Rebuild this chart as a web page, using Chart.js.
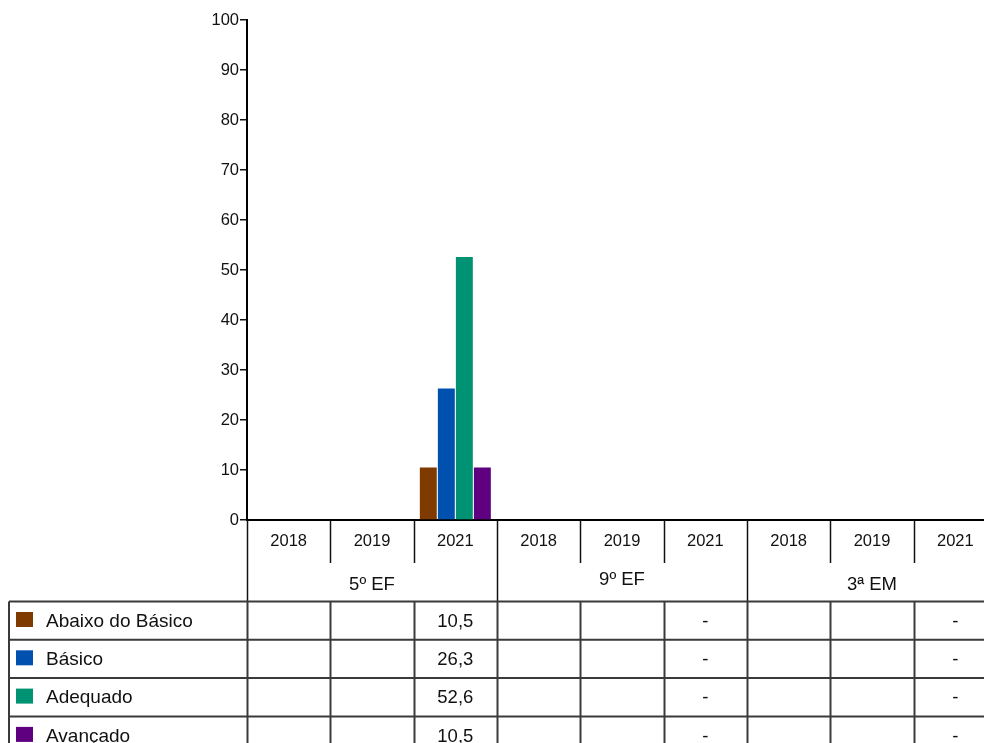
<!DOCTYPE html>
<html>
<head>
<meta charset="utf-8">
<script src="https://cdn.jsdelivr.net/npm/chart.js@4/dist/chart.umd.min.js"></script>
<style>
  html, body { margin: 0; padding: 0; background: #ffffff; }
  #wrap { width: 984px; height: 743px; overflow: hidden; position: relative; }
  #c { position: absolute; left: 0; top: 0; }
</style>
</head>
<body>
<div id="wrap"><canvas id="c" width="1000" height="743"></canvas></div>
<script>
// ---- data ----
const categories = ['2018', '2019', '2021', '2018', '2019', '2021', '2018', '2019', '2021'];
const groups = ['5º EF', '9º EF', '3ª EM'];
const seriesNames = ['Abaixo do Básico', 'Básico', 'Adequado', 'Avançado'];
const abaixoDoBasico = [null, null, 10.5, null, null, null, null, null, null];
const basico         = [null, null, 26.3, null, null, null, null, null, null];
const adequado       = [null, null, 52.6, null, null, null, null, null, null];
const avancado       = [null, null, 10.5, null, null, null, null, null, null];
// table marks for columns without a value ('-' = not available, '' = blank)
const missingMarks = ['', '', '', '', '', '-', '', '', '-'];
const yTicks = [0, 10, 20, 30, 40, 50, 60, 70, 80, 90, 100];

const seriesColors = ['#7f3a00', '#0050b0', '#009373', '#5f0080'];
const seriesData = [abaixoDoBasico, basico, adequado, avancado];

const FONT = '"Liberation Sans", Arial, sans-serif';

const tablePlugin = {
  id: 'dataTable',
  afterDraw(chart) {
    const ctx = chart.ctx;
    const xs = chart.scales.x;
    const ca = chart.chartArea;
    const n = categories.length;
    const colW = xs.getPixelForValue(1) - xs.getPixelForValue(0);
    const leftEdge = i => xs.getPixelForValue(i) - colW / 2;
    const W = chart.width;
    const H = chart.height;
    const top = ca.bottom;
    const yearBottom = top + 43;
    const tableTop = top + 81.5;
    const rowH = 38.3;

    ctx.save();
    // header vertical lines
    ctx.strokeStyle = '#111';
    ctx.lineWidth = 1.5;
    for (let i = 0; i <= n; i++) {
      const x = Math.round(leftEdge(i)) + 0.5;
      const isGroup = i % 3 === 0;
      ctx.beginPath();
      ctx.moveTo(x, top);
      ctx.lineTo(x, isGroup ? tableTop : yearBottom);
      ctx.stroke();
    }
    // year labels
    ctx.fillStyle = '#111';
    ctx.textAlign = 'center';
    ctx.textBaseline = 'middle';
    ctx.font = '16.5px ' + FONT;
    categories.forEach((c, i) => {
      ctx.fillText(c, xs.getPixelForValue(i), top + 21);
    });
    // group labels
    ctx.font = '18.5px ' + FONT;
    const groupY = [top + 64.5, top + 60, top + 64.5];
    groups.forEach((g, gi) => {
      const cx = (leftEdge(gi * 3) + leftEdge(gi * 3 + 3)) / 2;
      ctx.fillText(g, cx, groupY[gi]);
    });

    // table grid
    ctx.strokeStyle = '#3a3a3a';
    ctx.lineWidth = 2;
    for (let r = 0; r <= seriesNames.length; r++) {
      const y = tableTop + r * rowH;
      ctx.beginPath();
      ctx.moveTo(9, y);
      ctx.lineTo(W, y);
      ctx.stroke();
    }
    ctx.beginPath();
    ctx.moveTo(9, tableTop);
    ctx.lineTo(9, H);
    ctx.stroke();
    for (let i = 0; i <= n; i++) {
      const x = Math.round(leftEdge(i)) + 0.5;
      ctx.beginPath();
      ctx.moveTo(x, tableTop);
      ctx.lineTo(x, H);
      ctx.stroke();
    }

    // rows
    seriesNames.forEach((name, r) => {
      const rTop = tableTop + r * rowH;
      const cy = rTop + rowH / 2;
      ctx.fillStyle = seriesColors[r];
      ctx.fillRect(16, rTop + 10.5, 17, 15);
      ctx.fillStyle = '#111';
      ctx.textAlign = 'left';
      ctx.font = '19px ' + FONT;
      ctx.fillText(name, 46, cy + 1);
      ctx.textAlign = 'center';
      ctx.font = '18.5px ' + FONT;
      seriesData[r].forEach((v, i) => {
        const txt = (v === null || v === undefined) ? missingMarks[i] : v.toFixed(1).replace('.', ',');
        if (txt) ctx.fillText(txt, xs.getPixelForValue(i), cy + 1);
      });
    });
    ctx.restore();
  }
};

new Chart(document.getElementById('c'), {
  type: 'bar',
  data: {
    labels: categories,
    datasets: seriesNames.map((name, i) => ({
      label: name,
      data: seriesData[i],
      backgroundColor: seriesColors[i],
      borderWidth: 0,
      categoryPercentage: 0.865,
      barPercentage: 0.94
    }))
  },
  options: {
    responsive: false,
    animation: false,
    devicePixelRatio: 1,
    layout: { padding: { left: 0, top: 20, right: 3, bottom: 0 } },
    plugins: { legend: { display: false }, tooltip: { enabled: false } },
    scales: {
      x: {
        grid: { display: false },
        ticks: { display: false },
        border: { display: true, color: '#000', width: 2 },
        afterFit(scale) { scale.height = 223; }
      },
      y: {
        min: 0,
        max: 100,
        afterBuildTicks(scale) { scale.ticks = yTicks.map(v => ({ value: v })); },
        grid: { drawOnChartArea: false, drawTicks: true, tickLength: 7, color: '#111', lineWidth: 1.5 },
        border: { display: true, color: '#000', width: 2 },
        ticks: { color: '#111', padding: 1, font: { family: FONT, size: 16.5 } },
        afterFit(scale) { scale.width = 247; }
      }
    }
  },
  plugins: [tablePlugin]
});
</script>
</body>
</html>
